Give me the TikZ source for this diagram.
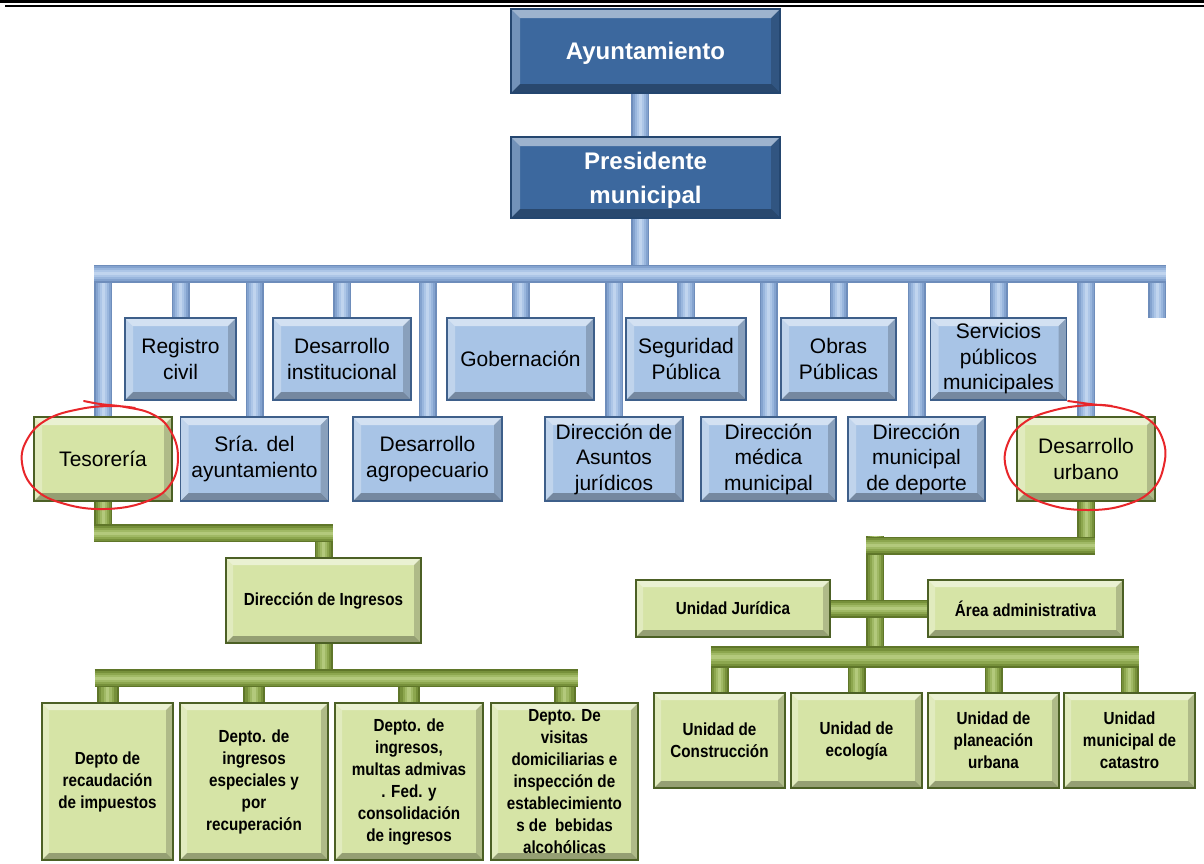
\documentclass[tikz,border=0pt]{standalone}
\usepackage{fontspec}
\setmainfont{Liberation Sans}
\newfontfamily\narrowsans[FakeStretch=0.87]{Liberation Sans}
\usetikzlibrary{calc}

% face and border colours
\definecolor{dkface}{HTML}{3C689E}
\definecolor{dkedge}{HTML}{24466F}
\definecolor{ltface}{HTML}{A8C4E6}
\definecolor{ltedge}{HTML}{3E5F8A}
\definecolor{grface}{HTML}{D6E4A6}
\definecolor{gredge}{HTML}{4C6025}
% pipe shading, outside to centre
\definecolor{bp1}{HTML}{6E8DBB}
\definecolor{bp2}{HTML}{84A3CF}
\definecolor{bp3}{HTML}{99B6DD}
\definecolor{bp4}{HTML}{ADC6E7}
\definecolor{bp5}{HTML}{C0D4EE}
\definecolor{gp1}{HTML}{5F7629}
\definecolor{gp2}{HTML}{76903A}
\definecolor{gp3}{HTML}{8CA64E}
\definecolor{gp4}{HTML}{A0B965}
\definecolor{gp5}{HTML}{B3C97C}
\definecolor{markred}{HTML}{E8262A}

\pgfdeclarelayer{background}
\pgfsetlayers{background,main}

\tikzset{
  % raised bevel drawn inside a rectangular node
  bevel/.style={path picture={
    \fill[white,opacity=.5] (path picture bounding box.north west) -- (path picture bounding box.north east)
      -- ([shift={(-#1,-#1)}]path picture bounding box.north east) -- ([shift={(#1,-#1)}]path picture bounding box.north west) -- cycle;
    \fill[white,opacity=.28] (path picture bounding box.north west) -- ([shift={(#1,-#1)}]path picture bounding box.north west)
      -- ([shift={(#1,#1)}]path picture bounding box.south west) -- (path picture bounding box.south west) -- cycle;
    \fill[black,opacity=.3] (path picture bounding box.south west) -- (path picture bounding box.south east)
      -- ([shift={(-#1,#1)}]path picture bounding box.south east) -- ([shift={(#1,#1)}]path picture bounding box.south west) -- cycle;
    \fill[black,opacity=.18] (path picture bounding box.north east) -- ([shift={(-#1,-#1)}]path picture bounding box.north east)
      -- ([shift={(-#1,#1)}]path picture bounding box.south east) -- (path picture bounding box.south east) -- cycle;
  }},
  box/.style={rectangle, line width=1.2pt, inner sep=1pt, align=center},
  topbox/.style={box, fill=dkface, draw=dkedge, text=white, text depth=0pt,
    font=\fontsize{24}{34}\selectfont\bfseries, bevel=9pt},
  unitbox/.style={box, fill=ltface, draw=ltedge, text=black,
    font=\fontsize{21}{25.5}\selectfont, bevel=8pt},
  keybox/.style={box, fill=grface, draw=gredge, text=black,
    font=\fontsize{21}{25.5}\selectfont, bevel=8pt},
  subbox/.style={box, fill=grface, draw=gredge, text=black,
    font=\narrowsans\bfseries\fontsize{17.5}{22}\selectfont, bevel=7pt},
  bluepipe/.style={draw=bp1, line width=18pt,
    postaction={draw=bp2, line width=15pt},
    postaction={draw=bp3, line width=11pt},
    postaction={draw=bp4, line width=7pt},
    postaction={draw=bp5, line width=3pt}},
  gpipe/.style={draw=gp1, line width=18pt,
    postaction={draw=gp2, line width=15pt},
    postaction={draw=gp3, line width=11pt},
    postaction={draw=gp4, line width=7pt},
    postaction={draw=gp5, line width=3pt}},
  gpipewide/.style={draw=gp1, line width=22pt,
    postaction={draw=gp2, line width=18pt},
    postaction={draw=gp3, line width=13pt},
    postaction={draw=gp4, line width=8pt},
    postaction={draw=gp5, line width=3.5pt}},
  redmark/.style={draw=markred, line width=2pt, line cap=round, line join=round},
}

\begin{document}
\begin{tikzpicture}[x=1pt, y=-1pt]
\useasboundingbox (0,0) rectangle (1204,863);

% double rule along the top edge
\fill[black] (0,0) rectangle (1204,3.4);
\fill[black] (5,4.8) rectangle (1204,6.8);

% upper level
\node[topbox, minimum width=269pt, minimum height=84pt] (ayun) at (645.5,51) {Ayuntamiento};
\node[topbox, minimum width=269pt, minimum height=81pt] (pres) at (645.5,177.5) {Presidente\\municipal};

% first row of dependencies
\node[unitbox, minimum width=111pt, minimum height=82pt] (reg)   at (180.5,359) {Registro\\civil};
\node[unitbox, minimum width=138pt, minimum height=82pt] (dinst) at (342,359)   {Desarrollo\\institucional};
\node[unitbox, minimum width=147pt, minimum height=82pt] (gob)   at (520.5,359) {Gobernación};
\node[unitbox, minimum width=120pt, minimum height=82pt] (seg)   at (686,359)   {Seguridad\\Pública};
\node[unitbox, minimum width=115pt, minimum height=82pt] (obras) at (838.5,359) {Obras\\Públicas};
\node[unitbox, minimum width=136pt, minimum height=82pt] (serv)  at (998.5,359) {Servicios\\públicos\\municipales};

% second row of dependencies
\node[keybox,  minimum width=138pt, minimum height=84pt] (tes)   at (103,459)   {Tesorería};
\node[unitbox, minimum width=148pt, minimum height=84pt] (sria)  at (254.5,459) {Sría. del\\ayuntamiento};
\node[unitbox, minimum width=149pt, minimum height=84pt] (agro)  at (427.5,459) {Desarrollo\\agropecuario};
\node[unitbox, minimum width=138pt, minimum height=84pt] (jurid) at (614,459)   {Dirección de\\Asuntos\\jurídicos};
\node[unitbox, minimum width=135pt, minimum height=84pt] (med)   at (768.5,459) {Dirección\\médica\\municipal};
\node[unitbox, minimum width=137pt, minimum height=84pt] (dep)   at (916.5,459) {Dirección\\municipal\\de deporte};
\node[keybox,  minimum width=138pt, minimum height=84pt] (urb)   at (1086,459)  {Desarrollo\\urbano};

% Tesorería branch
\node[subbox, minimum width=195pt, minimum height=85pt] (ding) at (323.5,600.5) {Dirección de Ingresos};
\node[subbox, minimum width=131pt, minimum height=157pt] (d1) at (107.5,781.5) {Depto de\\recaudación\\de impuestos};
\node[subbox, minimum width=148pt, minimum height=157pt] (d2) at (254,781.5) {Depto. de\\ingresos\\especiales y\\por\\recuperación};
\node[subbox, minimum width=148pt, minimum height=157pt] (d3) at (409,781.5) {Depto. de\\ingresos,\\multas admivas\\. Fed. y\\consolidación\\de ingresos};
\node[subbox, minimum width=147pt, minimum height=157pt] (d4) at (564.5,781.5) {Depto. De\\visitas\\domiciliarias e\\inspección de\\establecimiento\\s de\ \ bebidas\\alcohólicas};

% Desarrollo urbano branch
\node[subbox, minimum width=194pt, minimum height=57pt] (ujur) at (733,608.5) {Unidad Jurídica};
\node[subbox, minimum width=195pt, minimum height=57pt] (uadm) at (1025.5,608.5) {Área administrativa};
\node[subbox, minimum width=131pt, minimum height=95pt] (u1) at (719.5,740.5) {Unidad de\\Construcción};
\node[subbox, minimum width=131pt, minimum height=95pt] (u2) at (856.5,740.5) {Unidad de\\ecología};
\node[subbox, minimum width=131pt, minimum height=95pt] (u3) at (993.5,740.5) {Unidad de\\planeación\\urbana};
\node[subbox, minimum width=131pt, minimum height=95pt] (u4) at (1129.5,740.5) {Unidad\\municipal de\\catastro};

% bus ends and junction points
\coordinate (mainL) at (94,273.5);
\coordinate (mainR) at (1166,273.5);
\coordinate (stubtop) at (1157,273.5);
\coordinate (stubend) at (1157,318);
\coordinate (pj) at (640,0);
\coordinate (tbusL) at (94,533);
\coordinate (tbusR) at (332.5,533);
\coordinate (dbusL) at (94.5,678);
\coordinate (dbusR) at (577.5,678);
\coordinate (ubusL) at (866,545.5);
\coordinate (ubusR) at (1095,545.5);
\coordinate (trunk) at (875,536);
\coordinate (vbusL) at (710.5,657);
\coordinate (vbusR) at (1138.5,657);

\begin{pgfonlayer}{background}
  % blue connectors
  \draw[bluepipe] (pj |- ayun.south) -- (pj |- pres.north);
  \draw[bluepipe] (pj |- pres.south) -- (pj |- mainL);
  \foreach \n in {reg,dinst,gob,seg,obras,serv,tes,sria,agro,jurid,med,dep,urb}
    \draw[bluepipe] (\n.north) -- (\n.north |- mainL);
  \draw[bluepipe] (stubend) -- (stubtop);
  \draw[bluepipe] (mainL) -- (mainR);

  % green connectors, Tesorería
  \draw[gpipe] (tes.south) -- (tes.south |- tbusL);
  \draw[gpipe] (ding.north) -- (ding.north |- tbusL);
  \draw[gpipe] (tbusL) -- (tbusR);
  \draw[gpipe] (ding.south) -- (ding.south |- dbusL);
  \foreach \n in {d1,d2,d3,d4}
    \draw[gpipewide] (\n.north) -- (\n.north |- dbusL);
  \draw[gpipe] (dbusL) -- (dbusR);

  % green connectors, Desarrollo urbano
  \draw[gpipe] (urb.south) -- (urb.south |- ubusL);
  \draw[gpipe] (trunk) -- (trunk |- vbusL);
  \draw[gpipe] (ubusL) -- (ubusR);
  \draw[gpipe] (ujur.east) -- (uadm.west);
  \foreach \n in {u1,u2,u3,u4}
    \draw[gpipe] (\n.north) -- (\n.north |- vbusL);
  \draw[gpipewide] (vbusL) -- (vbusR);
\end{pgfonlayer}

% hand-drawn red rings
\draw[redmark] plot[smooth, tension=0.7] coordinates {(84,401) (100,404) (125,407) (152,414) (170,430) (178,457) (170,485) (145,502) (105,509) (65,504) (35,489) (22,463) (28,438) (48,419) (80,409) (112,406) (135,408)};
\draw[redmark] plot[smooth, tension=0.7] coordinates {(1068,401) (1090,404) (1120,408) (1148,419) (1163,440) (1164,465) (1152,490) (1125,505) (1088,510) (1050,505) (1020,490) (1006,468) (1008,443) (1025,422) (1055,410) (1090,405) (1112,406)};
\end{tikzpicture}
\end{document}
